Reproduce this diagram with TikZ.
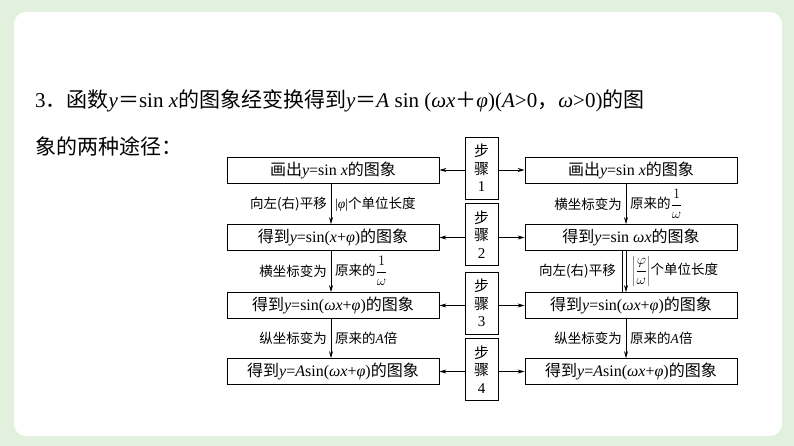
\documentclass[tikz,border=0pt]{standalone}
\usepackage{fontspec}
\setmainfont{Liberation Serif}
\newfontfamily\cjk{Noto Sans CJK SC}
\usetikzlibrary{arrows.meta}
\definecolor{bgg}{RGB}{226,240,222}
\tikzset{
 bx/.style={draw,line width=0.8pt,minimum width=212pt,minimum height=26pt,inner sep=0pt,font=\fontsize{16}{18}\selectfont},
 stp/.style={draw,line width=0.8pt,minimum width=33pt,minimum height=62pt,inner sep=0pt,align=center,font=\fontsize{15}{17.5}\selectfont},
 ar/.style={-{Stealth[length=7pt,width=4pt]},line width=0.7pt},
 lb/.style={font=\fontsize{13.5}{15}\selectfont,inner sep=2pt}
}
\newcommand{\C}[1]{{\cjk #1}}
\newcommand{\fr}[2]{$\displaystyle\frac{#1}{#2}$}
\begin{document}
\begin{tikzpicture}[x=1pt,y=-1pt]
\useasboundingbox (0,0) rectangle (794,446);
\fill[bgg] (0,0) rectangle (794,446);
\fill[white,rounded corners=12pt] (14,12) rectangle (782,436);
\node[anchor=west,font=\fontsize{21}{24}\selectfont,inner sep=0pt] (t1) at (35,101) {3\C{．函数}\textit{y}\C{＝}sin \textit{x}\C{的图象经变换得到}\textit{y}\C{＝}\textit{A} sin (\textit{ωx}\C{＋}\textit{φ})(\textit{A}>0\C{，}\textit{ω}>0)\C{的图}};
\node[anchor=west,font=\fontsize{21}{24}\selectfont,inner sep=0pt] (t2) at (35,146) {\C{象的两种途径：}};
\node[bx] (L1) at (333,170) {\C{画出}\textit{y}=sin \textit{x}\C{的图象}};
\node[bx] (L2) at (333,237.5) {\C{得到}\textit{y}=sin(\textit{x}+\textit{φ})\C{的图象}};
\node[bx] (L3) at (333,305.5) {\C{得到}\textit{y}=sin(\textit{ωx}+\textit{φ})\C{的图象}};
\node[bx] (L4) at (333,371.5) {\C{得到}\textit{y}=\textit{A}sin(\textit{ωx}+\textit{φ})\C{的图象}};
\node[bx] (R1) at (631,170) {\C{画出}\textit{y}=sin \textit{x}\C{的图象}};
\node[bx] (R2) at (631,237.5) {\C{得到}\textit{y}=sin \textit{ωx}\C{的图象}};
\node[bx] (R3) at (631,305.5) {\C{得到}\textit{y}=sin(\textit{ωx}+\textit{φ})\C{的图象}};
\node[bx] (R4) at (631,371.5) {\C{得到}\textit{y}=\textit{A}sin(\textit{ωx}+\textit{φ})\C{的图象}};
\node[stp] (S1) at (481.5,168) {\C{步}\\\C{骤}\\1};
\node[stp] (S2) at (481.5,234.5) {\C{步}\\\C{骤}\\2};
\node[stp] (S3) at (481.5,303) {\C{步}\\\C{骤}\\3};
\node[stp] (S4) at (481.5,369.5) {\C{步}\\\C{骤}\\4};
\foreach \i in {1,2,3,4}{
 \draw[ar] (S\i.west|-L\i) -- (L\i.east);
 \draw[ar] (S\i.east|-R\i) -- (R\i.west);
}
\foreach \a/\b in {1/2,2/3,3/4}{
 \draw[ar] ([xshift=-2pt]L\a.south) -- ([xshift=-2pt]L\b.north);
 \draw[ar] ([xshift=-5pt]R\a.south) -- ([xshift=-5pt]R\b.north);
}
\draw[line width=0.7pt] ([xshift=-9pt]R2.south) -- ([xshift=-9pt]R3.north);
\node[lb,anchor=east] (a1) at (329,204) {\C{向左(右)平移}};
\node[lb,anchor=west] (b1) at (333,204) {|\textit{φ}|\C{个单位长度}};
\node[lb,anchor=east] (a2) at (329,271) {\C{横坐标变为}};
\node[lb,anchor=west] (b2) at (333,271) {\C{原来的}\fr{1}{\omega}};
\node[lb,anchor=east] (a3) at (329,338) {\C{纵坐标变为}};
\node[lb,anchor=west] (b3) at (333,338) {\C{原来的}\textit{A}\C{倍}};
\node[lb,anchor=east] (c1) at (624,204) {\C{横坐标变为}};
\node[lb,anchor=west] (d1) at (628,204) {\C{原来的}\fr{1}{\omega}};
\node[lb,anchor=east] (c2) at (618,271) {\C{向左(右)平移}};
\node[lb,anchor=west] (d2) at (630,271) {$\displaystyle\left|\frac{\varphi}{\omega}\right|$\C{个单位长度}};
\node[lb,anchor=east] (c3) at (624,338) {\C{纵坐标变为}};
\node[lb,anchor=west] (d3) at (628,338) {\C{原来的}\textit{A}\C{倍}};
\end{tikzpicture}
\end{document}
